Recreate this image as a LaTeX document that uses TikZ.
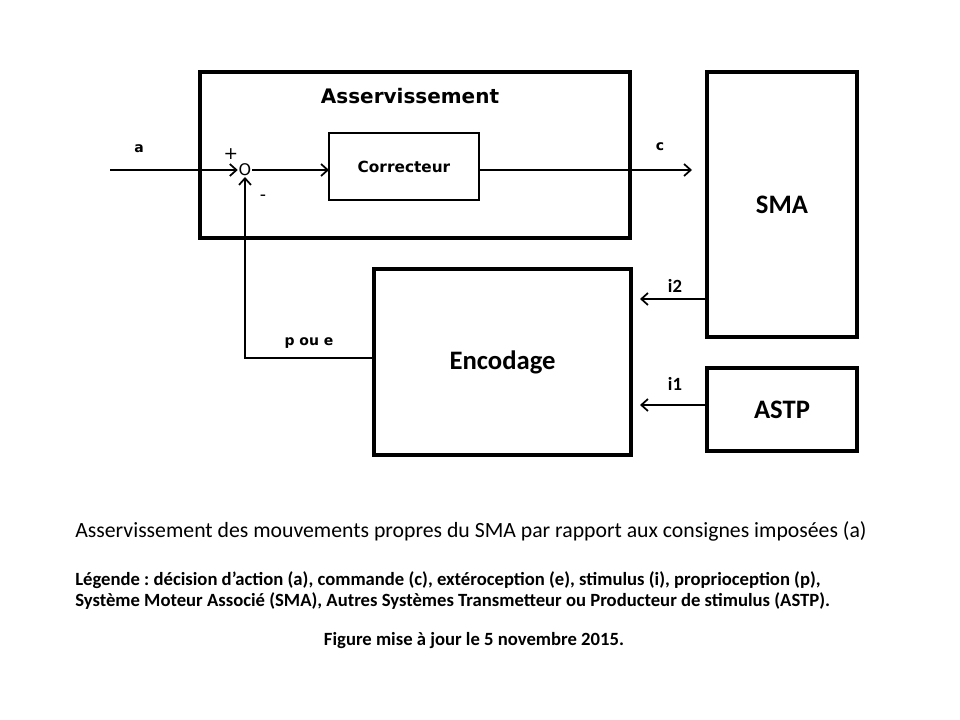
\documentclass[tikz,border=0pt]{standalone}
\usepackage{fontspec}
\setmainfont{Carlito}
\newfontfamily\dejavu{DejaVu Sans}
\usetikzlibrary{arrows.meta,positioning,calc}
\frenchspacing

\tikzset{
    bigbox/.style={draw, line width=2.4pt, inner sep=0pt, outer sep=0pt},
    smallbox/.style={draw, line width=1.6pt, inner sep=0pt, outer sep=0pt},
    flow/.style={line width=1.3pt, -{Straight Barb[length=5pt,width=9pt,line width=1.3pt]}},
    tag/.style={font=\dejavu\bfseries\fontsize{10.5}{11}\selectfont, inner sep=0pt},
    itag/.style={font=\bfseries\fontsize{14}{15}\selectfont, inner sep=0pt}
}

\begin{document}
\begin{tikzpicture}[x=0.75pt,y=-0.75pt]

    % Page (960 x 720 px)
    \useasboundingbox (0,0) rectangle (960,720);

    % Blocks
    \node[bigbox, minimum width=322.5pt, minimum height=124.5pt] (asserv) at (415,155) {};
    \node[font=\dejavu\bfseries\fontsize{15}{16}\selectfont] (asservtitle) at (410,96) {Asservissement};
    \node[smallbox, minimum width=112.5pt, minimum height=50.25pt,
          font=\dejavu\bfseries\fontsize{11.5}{12}\selectfont] (correcteur) at (404,166.5) {Correcteur};
    \node[bigbox, minimum width=112.5pt, minimum height=198.75pt,
          font=\bfseries\fontsize{20}{21}\selectfont] (sma) at (782,204.5) {SMA};
    \node[bigbox, minimum width=192.75pt, minimum height=139.5pt,
          font=\bfseries\fontsize{20}{21}\selectfont] (encodage) at (502.5,362) {Encodage};
    \node[bigbox, minimum width=112.5pt, minimum height=62.25pt,
          font=\bfseries\fontsize{20}{21}\selectfont] (astp) at (782,409.5) {ASTP};

    % Comparator
    \node[font=\dejavu\fontsize{12}{13}\selectfont, inner sep=0.5pt] (sum) at (245,170) {O};
    \node[font=\dejavu\fontsize{13}{14}\selectfont, inner sep=0pt] (plus) at (231,154) {+};
    \node[font=\dejavu\fontsize{13}{14}\selectfont, inner sep=0pt] (minus) at (263,198) {-};

    % Free ends
    \coordinate (ain) at (110,170);
    \coordinate (cend) at (692,170);
    \coordinate (i2end) at (640,299);
    \coordinate (i1end) at (640,405);

    % Connectors
    \draw[flow] (ain) -- (sum);
    \draw[flow] (sum) -- (sum -| correcteur.west);
    \draw[flow] (sum -| correcteur.east) -- (cend);
    \draw[flow] ($(encodage.west)+(0,-4)$) -| (sum.south);
    \draw[flow] (sma.west |- i2end) -- (i2end);
    \draw[flow] (astp.west |- i1end) -- (i1end);

    % Connector labels
    \node[tag] (lbla) at (139,149) {a};
    \node[tag] (lblc) at (660,147) {c};
    \node[tag] (lblpe) at (309,343) {p ou e};
    \node[itag] (lbli2) at (675,286) {i2};
    \node[itag] (lbli1) at (675,384) {i1};

    % Caption
    \node[anchor=west, inner sep=0pt, font=\fontsize{16.3}{17}\selectfont] (title) at (75,531)
        {Asservissement des mouvements propres du SMA par rapport aux consignes imposées (a)};
    \node[anchor=west, inner sep=0pt, font=\bfseries\fontsize{14}{15}\selectfont] (legend1) at (75,580)
        {Légende : décision d’action (a), commande (c), extéroception (e), stimulus (i), proprioception (p),};
    \node[anchor=west, inner sep=0pt, font=\bfseries\fontsize{14}{15}\selectfont] (legend2) at (75,601)
        {Système Moteur Associé (SMA), Autres Systèmes Transmetteur ou Producteur de stimulus (ASTP).};
    \node[inner sep=0pt, font=\bfseries\fontsize{14}{15}\selectfont] (update) at (474,641)
        {Figure mise à jour le 5 novembre 2015.};

\end{tikzpicture}
\end{document}
